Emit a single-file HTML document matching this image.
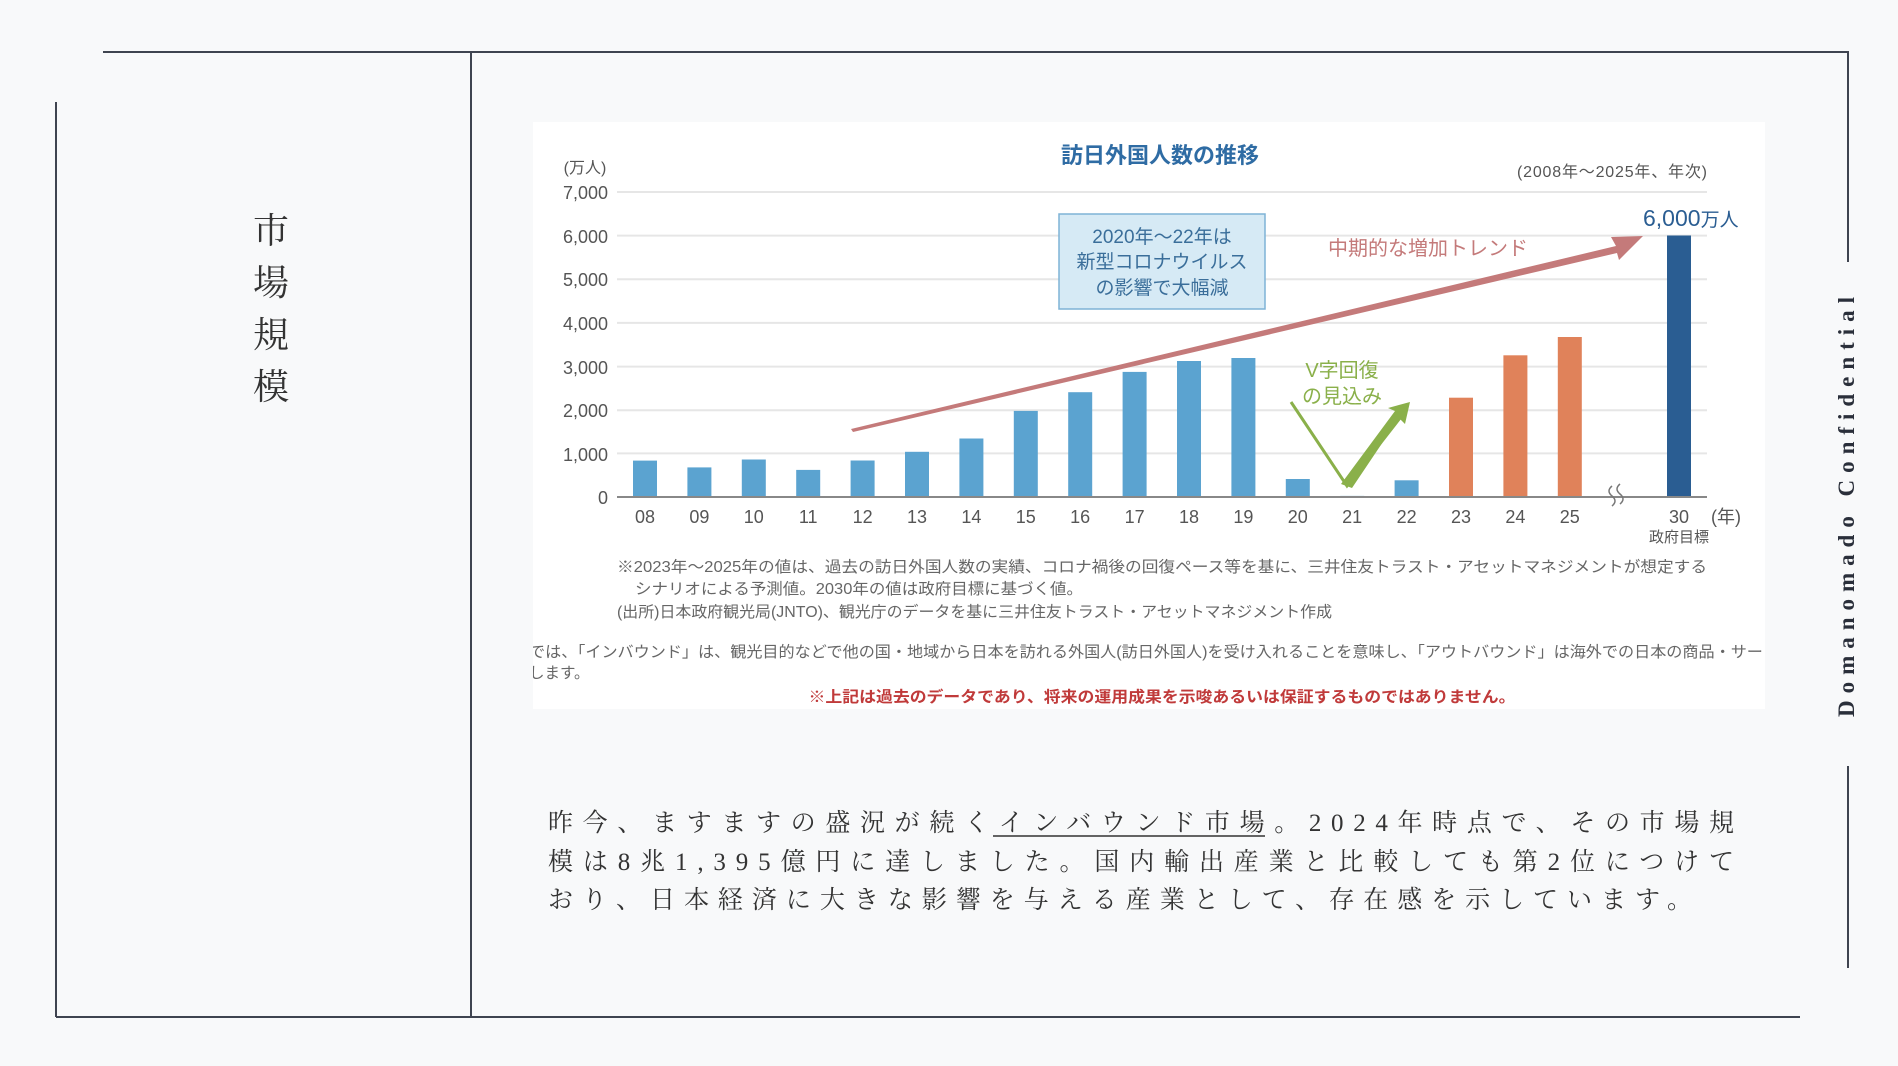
<!DOCTYPE html>
<html><head><meta charset="utf-8"><style>
html,body{margin:0;padding:0;background:#f8f9fa;}
svg{display:block}
</style></head><body>
<svg width="1898" height="1066" viewBox="0 0 1898 1066" xmlns="http://www.w3.org/2000/svg">
<rect width="1898" height="1066" fill="#f8f9fa"/>
<g stroke="#3f4450" stroke-width="2" fill="none">
<line x1="103" y1="52" x2="1849" y2="52"/>
<line x1="471" y1="52" x2="471" y2="1017"/>
<line x1="56" y1="102" x2="56" y2="1017"/>
<line x1="56" y1="1017" x2="1800" y2="1017"/>
<line x1="1848" y1="52" x2="1848" y2="262"/>
<line x1="1848" y1="766" x2="1848" y2="968"/>
</g>
<g font-family="'Liberation Serif','Noto Serif CJK JP',serif" fill="#333" font-size="36" text-anchor="middle">
<text x="271" y="243">市</text><text x="271" y="295">場</text><text x="271" y="347">規</text><text x="271" y="399">模</text>
</g>
<text transform="translate(1854,507) rotate(-90)" text-anchor="middle" font-family="'Liberation Serif',serif" font-weight="bold" font-size="23" fill="#2a2f3a" textLength="420" lengthAdjust="spacing">Domanomado  Confidential</text>

<rect x="533" y="122" width="1232" height="587" fill="#ffffff"/>
<g font-family="'Liberation Sans','Noto Sans CJK JP',sans-serif">
<text x="1160" y="163" text-anchor="middle" font-size="22" font-weight="bold" fill="#2f6ca4">訪日外国人数の推移</text>
<text x="585" y="173" text-anchor="middle" font-size="16" fill="#555">(万人)</text>
<text x="1707" y="177" text-anchor="end" font-size="16" fill="#555" textLength="190" lengthAdjust="spacing">(2008年～2025年、年次)</text>
<g stroke="#e6e6e6" stroke-width="2">
<line x1="617" y1="192" x2="1707" y2="192"/><line x1="617" y1="235.6" x2="1707" y2="235.6"/>
<line x1="617" y1="279.3" x2="1707" y2="279.3"/><line x1="617" y1="322.9" x2="1707" y2="322.9"/>
<line x1="617" y1="366.6" x2="1707" y2="366.6"/><line x1="617" y1="410.2" x2="1707" y2="410.2"/>
<line x1="617" y1="453.4" x2="1707" y2="453.4"/>
</g>
<g font-size="18" fill="#555" text-anchor="end">
<text x="608" y="199">7,000</text><text x="608" y="243">6,000</text><text x="608" y="286">5,000</text>
<text x="608" y="330">4,000</text><text x="608" y="374">3,000</text><text x="608" y="417">2,000</text>
<text x="608" y="461">1,000</text><text x="608" y="504">0</text>
</g>
<g fill="#5ba3d0">
<rect x="633" y="460.6" width="24" height="36.4"/>
<rect x="687.4" y="467.4" width="24" height="29.6"/>
<rect x="741.8" y="459.5" width="24" height="37.5"/>
<rect x="796.2" y="469.9" width="24" height="27.1"/>
<rect x="850.6" y="460.5" width="24" height="36.5"/>
<rect x="905" y="451.8" width="24" height="45.2"/>
<rect x="959.4" y="438.5" width="24" height="58.5"/>
<rect x="1013.8" y="410.9" width="24" height="86.1"/>
<rect x="1068.2" y="392.2" width="24" height="104.8"/>
<rect x="1122.6" y="371.9" width="24" height="125.1"/>
<rect x="1177" y="361" width="24" height="136"/>
<rect x="1231.4" y="358" width="24" height="139"/>
<rect x="1285.8" y="479" width="24" height="18"/>
<rect x="1340.2" y="495.9" width="24" height="1.1"/>
<rect x="1394.6" y="480.3" width="24" height="16.7"/>
</g>
<g fill="#e0825a">
<rect x="1449" y="397.7" width="24" height="99.3"/>
<rect x="1503.4" y="355.3" width="24" height="141.7"/>
<rect x="1557.8" y="337" width="24" height="160"/>
</g>
<rect x="1667" y="235.5" width="24" height="261.5" fill="#2a5d92"/>
<line x1="617" y1="497" x2="1707" y2="497" stroke="#888" stroke-width="2"/>
<path d="M1612 486 q-6 5 0 10 q6 5 0 10 M1620 484 q-6 5 0 10 q6 5 0 10" stroke="#777" stroke-width="1.5" fill="none"/>
<g font-size="18" fill="#555" text-anchor="middle">
<text x="645" y="523">08</text><text x="699.4" y="523">09</text><text x="753.8" y="523">10</text>
<text x="808.2" y="523">11</text><text x="862.6" y="523">12</text><text x="917" y="523">13</text>
<text x="971.4" y="523">14</text><text x="1025.8" y="523">15</text><text x="1080.2" y="523">16</text>
<text x="1134.6" y="523">17</text><text x="1189" y="523">18</text><text x="1243.4" y="523">19</text>
<text x="1297.8" y="523">20</text><text x="1352.2" y="523">21</text><text x="1406.6" y="523">22</text>
<text x="1461" y="523">23</text><text x="1515.4" y="523">24</text><text x="1569.8" y="523">25</text>
<text x="1679" y="523">30</text><text x="1726" y="523">(年)</text>
<text x="1679" y="542" font-size="15">政府目標</text>
</g>
<polygon points="851,429 1616,246 1611,237 1643,236 1619,260 1617,253 853,432" fill="#c47a7a"/>
<text x="1428" y="255" text-anchor="middle" font-size="20" fill="#c47a7a">中期的な増加トレンド</text>
<rect x="1059" y="214" width="206" height="95" fill="#d6eaf5" stroke="#7eb3d6" stroke-width="1.5"/>
<g font-size="19" fill="#3a6e9a" text-anchor="middle">
<text x="1162" y="243">2020年～22年は</text><text x="1162" y="268">新型コロナウイルス</text><text x="1162" y="294">の影響で大幅減</text>
</g>
<polyline points="1291,402 1347,486 1400,418" stroke="#8ab04a" stroke-width="3" fill="none"/>
<polygon points="1341,484 1395,411 1388,408 1410,402 1405,424 1399,418 1352,488" fill="#8ab04a"/>
<text x="1342" y="377" text-anchor="middle" font-size="20" fill="#8ab04a">V字回復</text>
<text x="1342" y="403" text-anchor="middle" font-size="20" fill="#8ab04a">の見込み</text>
<text x="1643" y="226" font-size="23" fill="#2a5d92">6,000<tspan font-size="19">万人</tspan></text>
<g font-size="15.5" fill="#666">
<text x="617" y="572" textLength="1090" lengthAdjust="spacingAndGlyphs">※2023年～2025年の値は、過去の訪日外国人数の実績、コロナ禍後の回復ペース等を基に、三井住友トラスト・アセットマネジメントが想定する</text>
<text x="635" y="594" textLength="448" lengthAdjust="spacingAndGlyphs">シナリオによる予測値。2030年の値は政府目標に基づく値。</text>
<text x="617" y="617" textLength="715" lengthAdjust="spacingAndGlyphs">(出所)日本政府観光局(JNTO)、観光庁のデータを基に三井住友トラスト・アセットマネジメント作成</text>
</g>
<svg x="533" y="630" width="1232" height="60">
<text x="-4" y="27" font-size="15.5" fill="#666" textLength="1250" lengthAdjust="spacingAndGlyphs">では、「インバウンド」は、観光目的などで他の国・地域から日本を訪れる外国人(訪日外国人)を受け入れることを意味し、「アウトバウンド」は海外での日本の商品・サービ</text>
<text x="-4" y="48" font-size="15.5" fill="#666">します。</text>
</svg>
<text x="1162" y="702" text-anchor="middle" font-size="15.5" font-weight="bold" fill="#c03a3a" textLength="707" lengthAdjust="spacingAndGlyphs">※上記は過去のデータであり、将来の運用成果を示唆あるいは保証するものではありません。</text>
</g>
<g font-family="'Liberation Serif','Noto Serif CJK JP',serif" font-size="25" fill="#333">
<text x="548" y="831" textLength="1186" lengthAdjust="spacing">昨今、ますますの盛況が続くインバウンド市場。2024年時点で、その市場規</text>
<text x="548" y="870" textLength="1186" lengthAdjust="spacing">模は8兆1,395億円に達しました。国内輸出産業と比較しても第2位につけて</text>
<text x="548" y="908" textLength="1144" lengthAdjust="spacing">おり、日本経済に大きな影響を与える産業として、存在感を示しています。</text>
</g>
<line x1="993" y1="836" x2="1265" y2="836" stroke="#333" stroke-width="1.5"/>
</svg>
</body></html>
